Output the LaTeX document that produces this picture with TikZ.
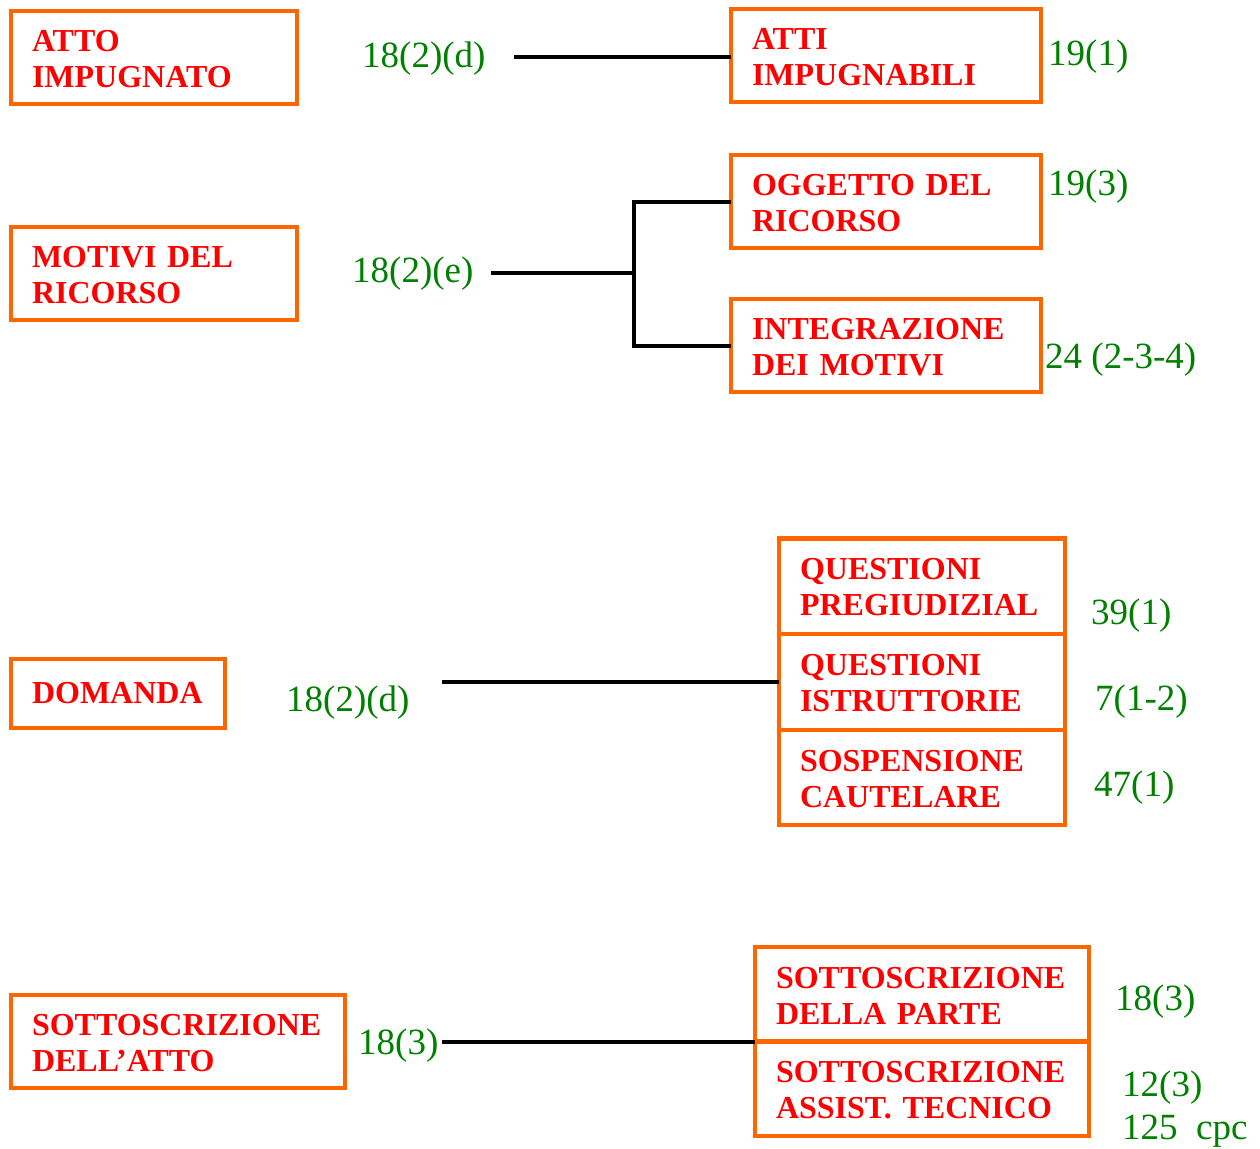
\documentclass[tikz,border=0pt]{standalone}
\usepackage{fontspec}
\setmainfont{Liberation Serif}
\definecolor{boxorange}{RGB}{255,102,0}
\definecolor{titlered}{RGB}{255,0,0}
\definecolor{refgreen}{RGB}{0,128,0}

\begin{document}
\begin{tikzpicture}[x=1pt,y=-1pt,
  topic/.style={draw=boxorange, line width=4.2pt, anchor=north west,
    outer sep=0pt, inner xsep=21.25pt, inner ysep=0pt, align=left,
    text=titlered, font=\fontsize{32}{36}\selectfont\bfseries,
    minimum height=93.5pt},
  twoline/.style={topic, execute at begin node={\rule{0pt}{24pt}}},
  w290/.style={minimum width=286.5pt, text width=244pt},
  w314/.style={minimum width=310.5pt, text width=268pt},
  w338/.style={minimum width=334.5pt, text width=292pt},
  ref/.style={text=refgreen, font=\fontsize{37}{40}\selectfont,
    inner sep=0pt, anchor=base west},
  conn/.style={line width=4pt, black}]

\useasboundingbox (0,0) rectangle (1260,1148);

% --- first row: contested act
\node[twoline, w290] (atto) at (10.75,10.75) {ATTO\\IMPUGNATO};
\node[ref] (r1) at (362,67) {18(2)(d)};
\node[twoline, w314] (impugnabili) at (730.75,8.75) {ATTI\\IMPUGNABILI};
\node[ref] (r1b) at (1048,66) {19(1)};
\coordinate (c1) at (514,57);
\draw[conn] (c1) -- (c1 -| impugnabili.west);

% --- second row: grounds of appeal
\node[twoline, w290] (motivi) at (10.75,226.75) {MOTIVI DEL\\RICORSO};
\node[ref] (r2) at (352,282) {18(2)(e)};
\node[twoline, w314] (oggetto) at (730.75,154.75) {OGGETTO DEL\\RICORSO};
\node[ref] (r2b) at (1048,195) {19(3)};
\node[twoline, w314] (integrazione) at (730.75,298.75) {INTEGRAZIONE\\DEI MOTIVI};
\node[ref] (r2c) at (1045,368) {24 (2-3-4)};
\coordinate (c2) at (491,273);
\coordinate (j2) at (634,273);
\draw[conn] (c2) -- (j2);
\draw[conn] (oggetto.west) -| (j2) |- (integrazione.west);

% --- third row: the claim, with a stack of three boxes sharing borders
\node[topic, minimum width=214.5pt, text width=172pt, minimum height=69.5pt]
  (domanda) at (10.75,658.75) {DOMANDA};
\node[ref] (r3) at (286,711) {18(2)(d)};
\node[twoline, w290, minimum height=95.25pt] (pregiudiziali) at (778.75,538.5) {QUESTIONI\\PREGIUDIZIAL};
\node[twoline, w290, minimum height=96pt] (istruttorie) at (778.75,633.75) {QUESTIONI\\ISTRUTTORIE};
\node[twoline, w290, minimum height=95.25pt] (sospensione) at (778.75,729.75) {SOSPENSIONE\\CAUTELARE};
\node[ref] (r3a) at (1091,624) {39(1)};
\node[ref] (r3b) at (1095,710) {7(1-2)};
\node[ref] (r3c) at (1094,796) {47(1)};
\coordinate (c3) at (442,682);
\draw[conn] (c3) -- (c3 -| istruttorie.west);

% --- fourth row: signature of the act, with a stack of two boxes
\node[twoline, w338] (sottoatto) at (10.75,994.75) {SOTTOSCRIZIONE\\DELL’ATTO};
\node[ref] (r4) at (358,1054) {18(3)};
\node[twoline, w338, minimum height=94.75pt] (parte) at (754.75,946.75) {SOTTOSCRIZIONE\\DELLA PARTE};
\node[twoline, w338, minimum height=94.75pt] (tecnico) at (754.75,1041.5) {SOTTOSCRIZIONE\\ASSIST. TECNICO};
\node[ref] (r4a) at (1115,1010) {18(3)};
\node[ref] (r4b) at (1122,1096) {12(3)};
\node[ref] (r4c) at (1122,1139) {125\ \ cpc};
\coordinate (c4) at (442,1042);
\draw[conn] (c4) -- (c4 -| parte.south west);

\end{tikzpicture}
\end{document}
